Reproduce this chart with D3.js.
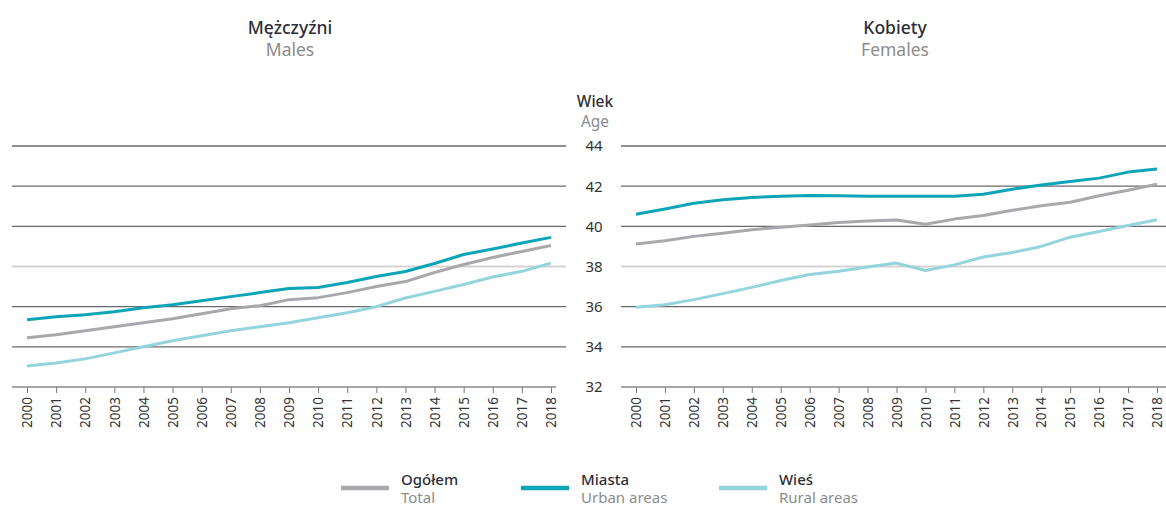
<!DOCTYPE html>
<html>
<head>
<meta charset="utf-8">
<script src="https://cdn.jsdelivr.net/npm/d3@7"></script>
<style>
  body { margin: 0; background: #fff; }
  svg { font-family: "Noto Sans", "Open Sans", sans-serif; }
</style>
</head>
<body>
<svg id="chart" width="1166" height="509"></svg>
<script>
// data
let years = d3.range(2000, 2019);
let age_ticks = [32, 34, 36, 38, 40, 42, 44];

let males_total = [34.45, 34.6, 34.8, 35.0, 35.2, 35.4, 35.65, 35.9, 36.05, 36.35, 36.45, 36.7, 37.0, 37.25, 37.7, 38.1, 38.45, 38.75, 39.05];
let males_urban = [35.35, 35.5, 35.6, 35.75, 35.95, 36.1, 36.3, 36.5, 36.7, 36.9, 36.95, 37.2, 37.5, 37.75, 38.15, 38.6, 38.87, 39.17, 39.45];
let males_rural = [33.05, 33.2, 33.4, 33.7, 34.0, 34.3, 34.55, 34.8, 35.0, 35.2, 35.45, 35.7, 36.0, 36.43, 36.76, 37.1, 37.48, 37.76, 38.17];

let females_total = [39.12, 39.28, 39.5, 39.66, 39.83, 39.96, 40.07, 40.19, 40.27, 40.32, 40.1, 40.36, 40.54, 40.8, 41.02, 41.2, 41.52, 41.8, 42.1];
let females_urban = [40.6, 40.86, 41.15, 41.32, 41.43, 41.5, 41.53, 41.52, 41.5, 41.5, 41.5, 41.5, 41.6, 41.85, 42.06, 42.23, 42.4, 42.7, 42.86];
let females_rural = [35.97, 36.1, 36.35, 36.65, 36.96, 37.3, 37.6, 37.76, 37.97, 38.17, 37.8, 38.08, 38.47, 38.7, 39.0, 39.46, 39.74, 40.04, 40.33];

let series_names = [["Ogółem", "Total"], ["Miasta", "Urban areas"], ["Wieś", "Rural areas"]];
let series_colors = ["#a9a8ad", "#0ba5b7", "#93d4dd"];

let svg = d3.select("#chart");
let y = d3.scaleLinear().domain([32, 44]).range([387, 146]);

// one panel of the chart (left = males, right = females)
function drawPanel(opts) {
  let x = d3.scaleLinear().domain([2000, 2018]).range(opts.xrange);
  let g = svg.append("g");

  // horizontal grid
  for(let t of age_ticks) {
    if(t == 32) continue;
    g.append("line")
      .attr("x1", opts.grid[0]).attr("x2", opts.grid[1])
      .attr("y1", y(t)).attr("y2", y(t))
      .attr("stroke", t == 38 ? "#d3d3d3" : "#6a6a6a")
      .attr("stroke-width", t == 38 ? 2 : 1.3);
  }

  // year axis
  let axis = g.append("g")
    .attr("transform", "translate(0," + y(32) + ")")
    .call(d3.axisBottom(x).tickValues(years).tickFormat(d3.format("d")).tickSize(6).tickSizeOuter(0));
  axis.select(".domain").remove();
  axis.selectAll(".tick line").attr("stroke", "#777");
  axis.selectAll("text")
    .attr("transform", "rotate(-90)")
    .attr("text-anchor", "end")
    .attr("x", -10).attr("y", 0).attr("dy", "0.35em")
    .attr("fill", "#333")
    .style("font-family", "'Noto Sans', sans-serif")
    .style("font-size", "13.5px");
  g.append("line")
    .attr("x1", opts.grid[0]).attr("x2", opts.axisEnd)
    .attr("y1", y(32)).attr("y2", y(32))
    .attr("stroke", "#8a8a8a").attr("stroke-width", 1.3);

  // series lines
  let line = d3.line().x((d, i) => x(years[i])).y(d => y(d));
  opts.series.forEach((s, i) => {
    g.append("path")
      .datum(s)
      .attr("d", line)
      .attr("fill", "none")
      .attr("stroke", series_colors[i])
      .attr("stroke-width", 3)
      .attr("stroke-linejoin", "round");
  });

  // titles
  g.append("text").attr("x", opts.titleX).attr("y", 34)
    .attr("text-anchor", "middle").attr("fill", "#2e2e38")
    .style("font-size", "17.5px").style("font-weight", "500").text(opts.title);
  g.append("text").attr("x", opts.titleX).attr("y", 56)
    .attr("text-anchor", "middle").attr("fill", "#8c8c8c")
    .style("font-size", "17.5px").text(opts.subtitle);
}

// draw order: total, urban, rural
drawPanel({ xrange: [27, 551], grid: [12, 566], axisEnd: 556,
  series: [males_total, males_urban, males_rural],
  title: "Mężczyźni", subtitle: "Males", titleX: 290 });
drawPanel({ xrange: [636, 1157], grid: [621, 1166], axisEnd: 1166,
  series: [females_total, females_urban, females_rural],
  title: "Kobiety", subtitle: "Females", titleX: 895 });

// age labels in the middle
svg.append("text").attr("x", 595).attr("y", 107).attr("text-anchor", "middle")
  .attr("fill", "#2e2e38").style("font-size", "15.5px").style("font-weight", "500").text("Wiek");
svg.append("text").attr("x", 595).attr("y", 127).attr("text-anchor", "middle")
  .attr("fill", "#8c8c8c").style("font-size", "15.5px").text("Age");
for(let t of age_ticks) {
  svg.append("text").attr("x", 594).attr("y", y(t)).attr("dy", "0.36em")
    .attr("text-anchor", "middle").attr("fill", "#333")
    .style("font-size", "15px").text(t);
}

// legend
let legend_x = [341, 521, 719];
series_names.forEach((n, i) => {
  let lg = svg.append("g").attr("transform", "translate(" + legend_x[i] + ",0)");
  lg.append("line").attr("x1", 0).attr("x2", 48).attr("y1", 488).attr("y2", 488)
    .attr("stroke", series_colors[i]).attr("stroke-width", 4.5);
  lg.append("text").attr("x", 60).attr("y", 485).attr("fill", "#2e2e38")
    .style("font-size", "15px").style("font-weight", "500").text(n[0]);
  lg.append("text").attr("x", 60).attr("y", 503).attr("fill", "#8c8c8c")
    .style("font-size", "15px").text(n[1]);
});
</script>
</body>
</html>
